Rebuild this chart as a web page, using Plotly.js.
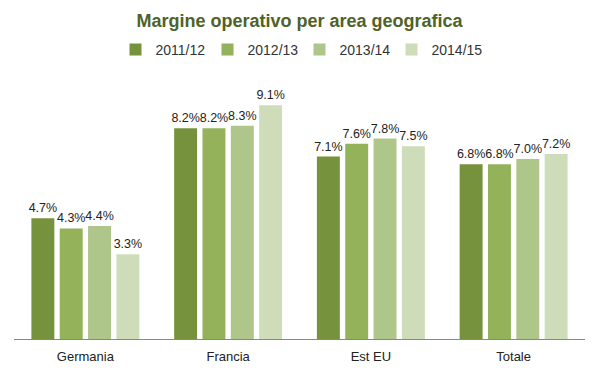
<!DOCTYPE html>
<html><head><meta charset="utf-8">
<script src="https://cdn.plot.ly/plotly-3.0.1.min.js"></script>
<style>html,body{margin:0;padding:0;background:#fff}</style>
</head><body><div id="chart" style="width:599px;height:374px"></div>
<script>
const categories = ["Germania", "Francia", "Est EU", "Totale"];
const seriesNames = ["2011/12", "2012/13", "2013/14", "2014/15"];
const v2011 = [4.7, 8.2, 7.1, 6.8];
const v2012 = [4.3, 8.2, 7.6, 6.8];
const v2013 = [4.4, 8.3, 7.8, 7.0];
const v2014 = [3.3, 9.1, 7.5, 7.2];
const colors = ["#77923C", "#94B25A", "#AFC68A", "#CFDCBA"];

const values = [v2011, v2012, v2013, v2014];
const traces = values.map((v, i) => ({
  type: "bar",
  name: seriesNames[i],
  x: categories,
  y: v,
  marker: {color: colors[i]},
  text: v.map(d => d.toFixed(1) + "%"),
  textposition: "outside",
  constraintext: "none",
  cliponaxis: false,
  textfont: {family: "Liberation Sans, Arial, sans-serif", size: 12.5, color: "#222"},
  hoverinfo: "skip"
}));

const layout = {
  width: 599, height: 374,
  margin: {l: 14, r: 14, t: 82, b: 35},
  paper_bgcolor: "#fff", plot_bgcolor: "#fff",
  title: {text: "<b>Margine operativo per area geografica</b>", x: 0.5, xanchor: "center", y: 0.945, yanchor: "middle",
          font: {family: "Liberation Sans, Arial, sans-serif", size: 18, color: "#4F6228"}},
  barmode: "group",
  bargap: 0.206,
  bargroupgap: 0.19,
  showlegend: true,
  legend: {orientation: "h", x: 0.5, xanchor: "center", y: 1.125, yanchor: "middle",
           font: {family: "Liberation Sans, Arial, sans-serif", size: 14, color: "#333"},
           itemwidth: 30, entrywidth: 47, entrywidthmode: "pixels", traceorder: "normal"},
  xaxis: {showline: true, linecolor: "#888", linewidth: 1, ticks: "", showgrid: false, ticklabelstandoff: 5,
          tickfont: {family: "Liberation Sans, Arial, sans-serif", size: 13, color: "#222"}},
  yaxis: {range: [0, 10], visible: false, showgrid: false, zeroline: false}
};
Plotly.newPlot("chart", traces, layout, {displayModeBar: false, staticPlot: true});
</script></body></html>
